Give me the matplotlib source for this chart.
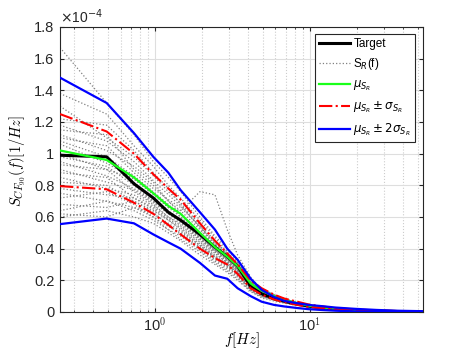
import matplotlib
matplotlib.use("Agg")
import matplotlib.pyplot as plt
import numpy as np

plt.rcParams['font.family'] = ['Liberation Sans', 'DejaVu Sans']
plt.rcParams['mathtext.fontset'] = 'cm'

# frequency resolution and bin indices
df = 0.244140625
k_env = [1, 2, 3, 4, 5, 6, 8, 10, 12, 14, 17, 20, 24, 28, 34, 40, 50, 60, 80, 110, 150, 220]

# values in units of 1e-4 [1/Hz]
target = [0.99, 0.98, 0.81, 0.72, 0.63, 0.58, 0.49, 0.41, 0.35, 0.29, 0.16, 0.115, 0.085,
          0.068, 0.05, 0.038, 0.026, 0.018, 0.011, 0.006, 0.003, 0.0015]
mean_s = [1.02, 0.96, 0.85, 0.75, 0.67, 0.62, 0.50, 0.41, 0.35, 0.29, 0.18, 0.135, 0.10,
          0.077, 0.055, 0.04, 0.028, 0.02, 0.012, 0.007, 0.004, 0.002]
up1 = [1.25, 1.14, 1.00, 0.87, 0.78, 0.71, 0.56, 0.45, 0.37, 0.30, 0.20, 0.15, 0.11,
       0.085, 0.065, 0.048, 0.034, 0.025, 0.016, 0.01, 0.006, 0.004]
lo1 = [0.795, 0.775, 0.69, 0.62, 0.55, 0.49, 0.40, 0.34, 0.30, 0.24, 0.15, 0.11, 0.08,
       0.062, 0.045, 0.032, 0.022, 0.015, 0.009, 0.005, 0.002, 0.001]
up2 = [1.48, 1.32, 1.13, 0.98, 0.88, 0.77, 0.63, 0.52, 0.40, 0.33, 0.21, 0.14, 0.095,
       0.07, 0.055, 0.045, 0.036, 0.028, 0.02, 0.013, 0.008, 0.005]
lo2 = [0.555, 0.59, 0.56, 0.49, 0.44, 0.40, 0.31, 0.23, 0.21, 0.15, 0.10, 0.065, 0.045,
       0.035, 0.025, 0.018, 0.012, 0.008, 0.004, 0.002, 0.001, 0.0]

# realisations S_R(f)
k_smp = [1, 2, 3, 4, 5, 6, 8, 10, 12, 14, 17, 20, 25, 32, 45, 70, 120, 220]
samples = [
    [1.67, 1.32, 1.12, 0.95, 0.85, 0.76, 0.60, 0.48, 0.40, 0.32, 0.20, 0.15, 0.10, 0.065, 0.035, 0.016, 0.006, 0.002],
    [1.38, 1.25, 1.05, 0.92, 0.80, 0.72, 0.58, 0.47, 0.38, 0.31, 0.19, 0.14, 0.10, 0.066, 0.034, 0.015, 0.006, 0.002],
    [1.30, 1.10, 0.98, 0.86, 0.76, 0.69, 0.55, 0.45, 0.37, 0.30, 0.20, 0.15, 0.10, 0.064, 0.036, 0.016, 0.007, 0.002],
    [1.22, 1.18, 1.02, 0.88, 0.78, 0.68, 0.53, 0.43, 0.36, 0.29, 0.18, 0.13, 0.09, 0.060, 0.032, 0.014, 0.006, 0.002],
    [1.18, 1.08, 0.95, 0.83, 0.74, 0.67, 0.54, 0.44, 0.37, 0.31, 0.19, 0.14, 0.10, 0.062, 0.033, 0.015, 0.006, 0.002],
    [1.15, 1.12, 0.90, 0.80, 0.70, 0.64, 0.52, 0.42, 0.35, 0.29, 0.18, 0.13, 0.09, 0.061, 0.032, 0.014, 0.005, 0.002],
    [1.12, 1.02, 0.92, 0.82, 0.70, 0.62, 0.50, 0.40, 0.34, 0.28, 0.17, 0.13, 0.09, 0.058, 0.031, 0.014, 0.005, 0.002],
    [1.10, 1.05, 0.88, 0.78, 0.71, 0.66, 0.54, 0.43, 0.37, 0.30, 0.19, 0.14, 0.10, 0.064, 0.034, 0.015, 0.006, 0.002],
    [1.08, 0.98, 0.86, 0.76, 0.68, 0.60, 0.49, 0.40, 0.33, 0.27, 0.17, 0.12, 0.09, 0.058, 0.030, 0.013, 0.005, 0.002],
    [1.06, 0.94, 0.84, 0.74, 0.66, 0.64, 0.76, 0.74, 0.52, 0.36, 0.22, 0.14, 0.10, 0.062, 0.033, 0.015, 0.006, 0.002],
    [1.02, 0.96, 0.82, 0.72, 0.64, 0.58, 0.47, 0.39, 0.33, 0.27, 0.17, 0.12, 0.09, 0.057, 0.030, 0.013, 0.005, 0.002],
    [1.00, 0.90, 0.84, 0.75, 0.66, 0.60, 0.48, 0.39, 0.34, 0.28, 0.18, 0.13, 0.09, 0.060, 0.032, 0.014, 0.006, 0.002],
    [0.98, 0.92, 0.80, 0.70, 0.62, 0.57, 0.46, 0.38, 0.32, 0.26, 0.16, 0.12, 0.085, 0.056, 0.030, 0.013, 0.005, 0.002],
    [0.95, 0.86, 0.78, 0.70, 0.63, 0.58, 0.48, 0.40, 0.34, 0.28, 0.17, 0.13, 0.09, 0.059, 0.031, 0.014, 0.005, 0.002],
    [0.93, 0.90, 0.76, 0.68, 0.60, 0.55, 0.45, 0.37, 0.31, 0.26, 0.16, 0.12, 0.085, 0.055, 0.029, 0.013, 0.005, 0.002],
    [0.90, 0.82, 0.77, 0.69, 0.62, 0.57, 0.47, 0.39, 0.33, 0.27, 0.17, 0.12, 0.09, 0.058, 0.031, 0.014, 0.005, 0.002],
    [0.88, 0.85, 0.72, 0.66, 0.59, 0.54, 0.44, 0.36, 0.31, 0.25, 0.16, 0.11, 0.08, 0.054, 0.029, 0.013, 0.005, 0.002],
    [0.85, 0.78, 0.74, 0.67, 0.60, 0.56, 0.46, 0.38, 0.32, 0.26, 0.16, 0.12, 0.085, 0.057, 0.030, 0.013, 0.005, 0.002],
    [0.82, 0.80, 0.70, 0.64, 0.58, 0.53, 0.43, 0.35, 0.30, 0.25, 0.15, 0.11, 0.08, 0.053, 0.028, 0.012, 0.005, 0.002],
    [0.78, 0.74, 0.72, 0.65, 0.58, 0.52, 0.42, 0.35, 0.30, 0.24, 0.15, 0.11, 0.08, 0.052, 0.028, 0.012, 0.005, 0.001],
    [0.75, 0.70, 0.66, 0.62, 0.56, 0.51, 0.42, 0.34, 0.29, 0.24, 0.15, 0.11, 0.08, 0.052, 0.027, 0.012, 0.004, 0.001],
    [0.72, 0.76, 0.68, 0.60, 0.54, 0.50, 0.41, 0.34, 0.29, 0.23, 0.14, 0.10, 0.075, 0.050, 0.027, 0.012, 0.004, 0.001],
    [0.68, 0.66, 0.70, 0.63, 0.55, 0.49, 0.40, 0.33, 0.28, 0.23, 0.14, 0.10, 0.075, 0.050, 0.026, 0.011, 0.004, 0.001],
    [0.64, 0.70, 0.64, 0.58, 0.52, 0.48, 0.39, 0.32, 0.27, 0.22, 0.14, 0.10, 0.07, 0.048, 0.026, 0.011, 0.004, 0.001],
    [0.62, 0.60, 0.66, 0.60, 0.52, 0.46, 0.38, 0.31, 0.26, 0.21, 0.13, 0.095, 0.07, 0.047, 0.025, 0.011, 0.004, 0.001],
    [0.60, 0.64, 0.60, 0.56, 0.50, 0.45, 0.36, 0.30, 0.25, 0.20, 0.13, 0.09, 0.065, 0.045, 0.024, 0.010, 0.004, 0.001],
]

f_env = np.array(k_env) * df
f_smp = np.array(k_smp) * df

fig = plt.figure(figsize=(4.67, 3.5), dpi=100)
ax = fig.add_axes([0.1285, 0.1086, 0.7773, 0.8143])

ax.plot(f_env, target, color='k', lw=2.2, label='Target', zorder=3)
for i, s in enumerate(samples):
    ax.plot(f_smp, s, color=(0.5, 0.5, 0.5), ls=':', lw=0.9,
            label='S$_R$(f)' if i == 0 else None, zorder=2)
ax.plot(f_env, mean_s, color=(0.1, 1.0, 0.1), lw=1.6, label=r'$\mu_{S_R}$', zorder=4)
ax.plot(f_env, up1, color='r', ls='-.', lw=1.5, label=r'$\mu_{S_R}\pm\sigma_{S_R}$', zorder=4)
ax.plot(f_env, lo1, color='r', ls='-.', lw=1.5, zorder=4)
ax.plot(f_env, up2, color='b', lw=1.6, label=r'$\mu_{S_R}\pm2\sigma_{S_R}$', zorder=4)
ax.plot(f_env, lo2, color='b', lw=1.6, zorder=4)

ax.set_xscale('log')
ax.set_xlim(f_env[0], f_env[-1])
ax.set_ylim(0, 1.8)
ax.set_yticks(np.arange(0, 1.81, 0.2))
ax.set_yticklabels(['0', '0.2', '0.4', '0.6', '0.8', '1', '1.2', '1.4', '1.6', '1.8'])
ax.set_xticks([1, 10])
ax.set_xticklabels([r'10$^0$', r'10$^1$'])

ax.grid(True, which='major', color=(0.87, 0.87, 0.87), lw=0.8)
ax.grid(True, which='minor', axis='x', color=(0.8, 0.8, 0.8), ls=':', lw=0.8)
ax.set_axisbelow(True)
ax.tick_params(which='both', direction='in', top=True, right=True, labelsize=10.5,
               colors=(0.15, 0.15, 0.15), length=3)
ax.tick_params(axis='y', pad=4)
ax.tick_params(axis='x', pad=3)
ax.tick_params(which='minor', length=1.5)
for sp in ax.spines.values():
    sp.set_color((0.15, 0.15, 0.15))
    sp.set_linewidth(0.8)

ax.text(0.0, 1.005, r'$\times$10$^{-4}$', transform=ax.transAxes, ha='left', va='bottom',
        fontsize=10, color=(0.15, 0.15, 0.15), math_fontfamily='dejavusans')

ax.set_xlabel(r'$f[Hz]$', fontsize=11)
ax.xaxis.set_label_coords(0.5, -0.066)
ax.set_ylabel(r'$S_{CF_{90}}(f)[1/Hz]$', fontsize=10.5)
ax.yaxis.set_label_coords(-0.088, 0.53)

leg = ax.legend(loc='upper right', bbox_to_anchor=(0.978, 0.977),
                fancybox=False, framealpha=1, edgecolor=(0.15, 0.15, 0.15),
                handlelength=2.6, handletextpad=0.3, borderpad=0.35, labelspacing=0.55,
                borderaxespad=0.0,
                prop={'size': 8.5, 'math_fontfamily': 'dejavusans'})
leg.get_frame().set_linewidth(0.8)

fig.savefig('out.png', dpi=100)
